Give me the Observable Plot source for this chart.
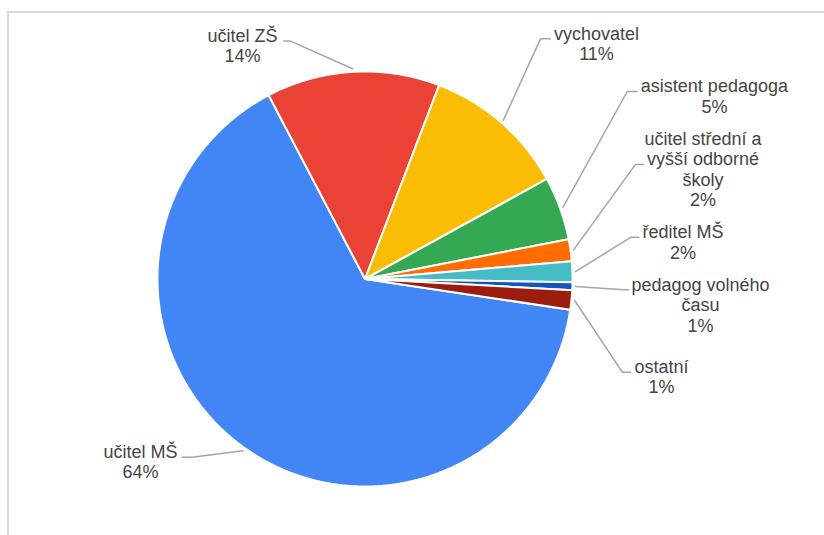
<!DOCTYPE html>
<html><head><meta charset="utf-8">
<script src="https://cdn.jsdelivr.net/npm/d3@7"></script>
<script src="https://cdn.jsdelivr.net/npm/@observablehq/plot@0.6"></script>
<style>
body{margin:0;background:#fff;width:824px;height:535px;overflow:hidden;}
#frame{position:absolute;left:7px;top:11px;right:-5px;bottom:-5px;border-top:2px solid #dadada;border-left:2px solid #dadada;}
#chart{position:absolute;left:0;top:0;}
</style></head><body><div id="frame"></div><div id="chart"></div>
<script>
// ---- data ----
const categories = ["učitel MŠ","učitel ZŠ","vychovatel","asistent pedagoga","učitel střední a vyšší odborné školy","ředitel MŠ","pedagog volného času","ostatní"];
const shares = [64.49, 13.4, 11.1, 4.9, 1.7, 1.6, 0.6, 1.49];
const percentLabels = ["64%","14%","11%","5%","2%","2%","1%","1%"];
const labelLines = [["učitel MŠ"],["učitel ZŠ"],["vychovatel"],["asistent pedagoga"],["učitel střední a","vyšší odborné","školy"],["ředitel MŠ"],["pedagog volného","času"],["ostatní"]];
const colors = ["#4285F4","#EA4335","#FBBC04","#34A853","#FF6D01","#46BDC6","#1553BE","#9C1C10"];

// ---- layout (unit radius coordinates) ----
const startDeg = 98.5;
const elbows = [[-0.837,-0.863],[-0.361,1.152],[0.850,1.163],[1.270,0.908],[1.310,0.555],[1.286,0.202],[1.253,-0.052],[1.246,-0.451]];
const leaderEndX = [-0.885,-0.393,0.898,1.318,1.349,1.326,1.276,1.286];
const textCenterX = [-1.087,-0.593,1.121,1.692,1.637,1.540,1.625,1.436];
const anchorLine = [0,0,0,0,1,0,0,0];
const R = 206.5, cx = 364.5, cy = 278.5, lineH = 20.5;

const total = d3.sum(shares);
let acc = startDeg;
const slices = shares.map((v, i) => {
  const a0 = acc, a1 = acc + v / total * 360; acc = a1;
  return {i, a0, a1, mid: (a0 + a1) / 2};
});
const rad = d => d * Math.PI / 180;
function polygon(s) {
  const pts = [{x: 0, y: 0}];
  const n = Math.max(2, Math.ceil((s.a1 - s.a0) / 0.5));
  for (let k = 0; k <= n; k++) {
    const a = rad(s.a0 + (s.a1 - s.a0) * k / n);
    pts.push({x: 1.005 * Math.sin(a), y: 1.005 * Math.cos(a)});
  }
  pts.push({x: 0, y: 0});
  return pts;
}
const sliceMarks = slices.map(s => Plot.line(polygon(s), {x: "x", y: "y", fill: colors[s.i], stroke: "white", strokeWidth: 2, strokeLinejoin: "round"}));

const leaders = slices.map(s => {
  const a = rad(s.mid), e = elbows[s.i];
  return [
    {x: 1.02 * Math.sin(a), y: 1.02 * Math.cos(a)},
    {x: e[0], y: e[1]},
    {x: leaderEndX[s.i], y: e[1]}
  ];
});
const leaderMarks = leaders.map(pts => Plot.line(pts, {x: "x", y: "y", stroke: "#a5a5a5", strokeWidth: 1.5}));

const textRows = [];
slices.forEach(s => {
  const lines = [...labelLines[s.i], percentLabels[s.i]];
  lines.forEach((t, k) => {
    const dpx = -5 + lineH * (k - anchorLine[s.i]);
    textRows.push({x: textCenterX[s.i], y: elbows[s.i][1] - dpx / R, text: t});
  });
});

const chart = Plot.plot({
  width: 824, height: 535, margin: 0,
  style: {background: "transparent"},
  x: {domain: [-1, 1], range: [cx - R, cx + R], axis: null},
  y: {domain: [-1, 1], range: [cy + R, cy - R], axis: null},
  marks: [
    ...sliceMarks,
    ...leaderMarks,
    Plot.text(textRows, {x: "x", y: "y", text: "text", textAnchor: "middle", lineAnchor: "middle", fontSize: 18, fill: "#444444", fontFamily: "Liberation Sans, Arial, sans-serif"})
  ]
});
document.getElementById("chart").appendChild(chart);
</script></body></html>
